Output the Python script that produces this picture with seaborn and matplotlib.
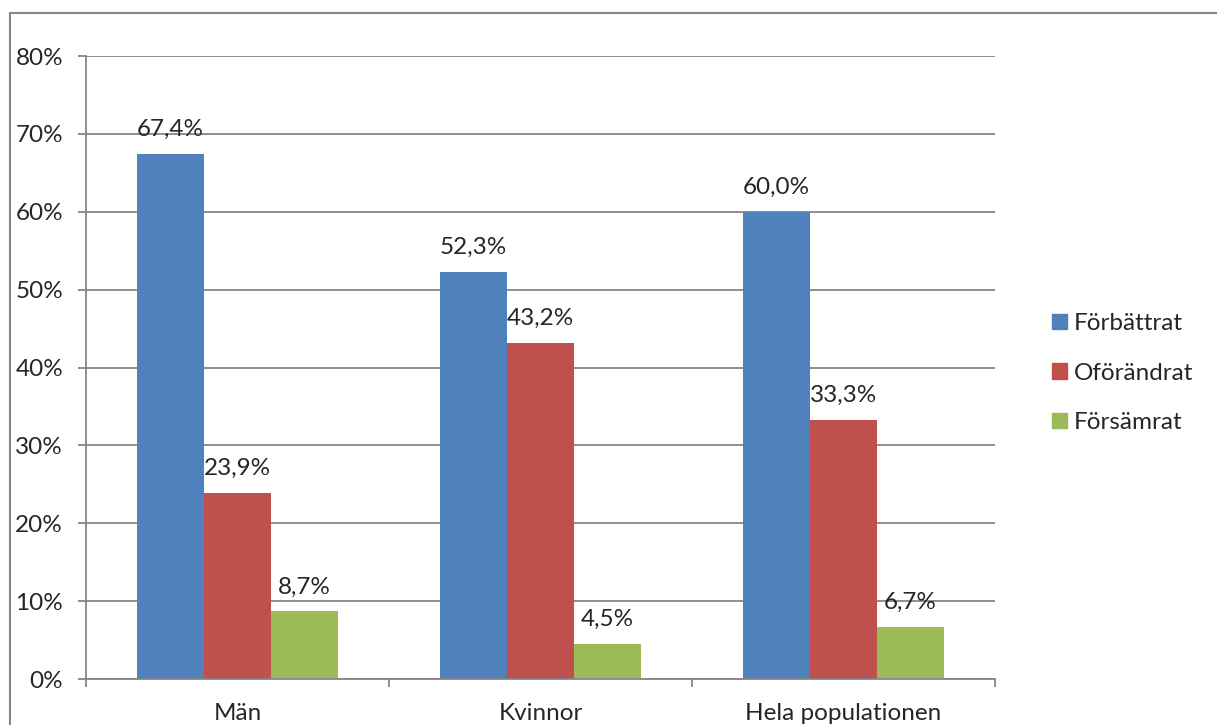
import matplotlib.pyplot as plt
import seaborn as sns
import pandas as pd
from matplotlib.lines import Line2D
from matplotlib.ticker import FuncFormatter, MultipleLocator

# data
groups = ['Män', 'Kvinnor', 'Hela populationen']
series = ['Förbättrat', 'Oförändrat', 'Försämrat']
forbattrat = [67.4, 52.3, 60.0]
oforandrat = [23.9, 43.2, 33.3]
forsamrat = [8.7, 4.5, 6.7]
colors = ['#4F81BD', '#C0504D', '#9BBB59']

rows = []
for s, vals in zip(series, [forbattrat, oforandrat, forsamrat]):
    for g, v in zip(groups, vals):
        rows.append({'grupp': g, 'serie': s, 'andel': v})
df = pd.DataFrame(rows)

sns.set_style('white')
plt.rcParams['font.family'] = ['Lato', 'DejaVu Sans']
grid_c = '#868686'
fs = 17.5

fig = plt.figure(figsize=(12.17, 7.25), dpi=100)
ax = fig.add_axes([86 / 1217, 1 - 679 / 725, (995 - 86) / 1217, (679 - 56) / 725])

sns.barplot(data=df, x='grupp', y='andel', hue='serie', order=groups,
            hue_order=series, palette=colors, width=0.663, gap=0,
            saturation=1, linewidth=0, ax=ax, legend=True)

# data labels
for cont, vals in zip(ax.containers, [forbattrat, oforandrat, forsamrat]):
    ax.bar_label(cont, labels=[f'{v:.1f}%'.replace('.', ',') for v in vals],
                 padding=10, fontsize=fs)

ax.set_ylim(0, 80)
ax.set_xlim(-0.5, 2.5)
ax.yaxis.set_major_locator(MultipleLocator(10))
ax.yaxis.set_major_formatter(FuncFormatter(lambda v, p: f'{v:.0f}%'))
ax.set_axisbelow(True)
ax.grid(axis='y', color=grid_c, linewidth=1.3)
ax.set_xlabel('')
ax.set_ylabel('')

for side in ['top', 'right']:
    ax.spines[side].set_visible(False)
for side in ['left', 'bottom']:
    ax.spines[side].set_color(grid_c)
    ax.spines[side].set_linewidth(1.3)

ax.tick_params(axis='y', direction='out', length=6, width=1.3, color=grid_c,
               pad=10.5, labelsize=fs, left=True)
ax.tick_params(axis='x', which='major', length=0, pad=17, labelsize=fs)
ax.set_xticks([-0.5, 0.5, 1.5, 2.5], minor=True)
ax.tick_params(axis='x', which='minor', direction='out', length=6, width=1.3,
               color=grid_c, bottom=True)

handles = [plt.Rectangle((0, 0), 1, 1, color=c) for c in colors]
ax.legend(handles, series, loc='center left', frameon=False, fontsize=fs,
          bbox_to_anchor=(1052 / 1217, 1 - 373 / 725),
          bbox_transform=fig.transFigure, borderaxespad=0, borderpad=0,
          handlelength=0.6, handleheight=0.6, handletextpad=0.3,
          labelspacing=1.17)

# outer chart frame (cropped on right and bottom)
fx, fy = 10 / 1217, 1 - 13 / 725
fig.add_artist(Line2D([fx, 1], [fy, fy], transform=fig.transFigure,
                      color=grid_c, linewidth=1.5))
fig.add_artist(Line2D([fx, fx], [fy, 0], transform=fig.transFigure,
                      color=grid_c, linewidth=1.5))

fig.savefig('out.png', dpi=100)
